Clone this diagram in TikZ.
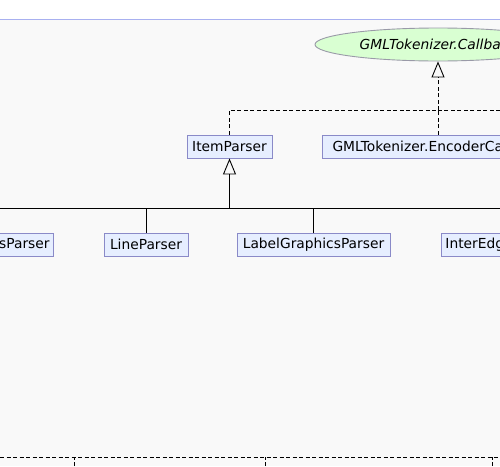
\documentclass[tikz,border=0pt]{standalone}
\usepackage{fontspec}
\setmainfont{DejaVu Sans}
\usetikzlibrary{arrows.meta,shapes.geometric}

\definecolor{canvas}{HTML}{F9F9F9}
\definecolor{rulecol}{HTML}{A8B0F0}
\definecolor{clsfill}{HTML}{E6EEFF}
\definecolor{clsborder}{HTML}{8A8AC8}
\definecolor{iffill}{HTML}{D9FFD2}
\definecolor{ifborder}{HTML}{9A9AA8}

\begin{document}
\begin{tikzpicture}[
    x=1pt, y=-1pt,
    font=\fontsize{13.8}{15}\selectfont,
    cls/.style={
        draw=clsborder,
        fill=clsfill,
        minimum height=23pt,
        inner xsep=4pt,
        inner ysep=0pt,
        line width=0.9pt
    },
    iface/.style={
        ellipse,
        draw=ifborder,
        fill=iffill,
        minimum width=246pt,
        minimum height=33pt,
        font=\fontsize{13.8}{15}\selectfont\itshape,
        line width=0.9pt
    },
    rel/.style={line width=0.9pt},
    impl/.style={rel, dash pattern=on 4pt off 2.5pt},
    gen/.style={-{Triangle[open, length=16pt, width=13pt, line width=0.9pt]}}
]
    \useasboundingbox (0,0) rectangle (500,466);
    \clip (0,0) rectangle (500,466);
    %% Hintergrund
    \fill[canvas] (0,19) rectangle (500,466);
    \draw[rulecol, line width=1pt] (0,19) -- (500,19);

    %% Interface
    \node[iface] (callback) at (438,44.5) {GMLTokenizer.Callback};
    %% Klassen
    \node[cls, minimum width=85pt] (itemParser) at (229.5,146.5) {ItemParser};
    \node[cls, minimum width=232pt] (encoderCallback) at (438,146.5) {GMLTokenizer.EncoderCallback};
    \node[cls, anchor=east] (graphicsParser) at (54,244.5) {GraphicsParser};
    \node[cls, minimum width=84pt] (lineParser) at (146,244.5) {LineParser};
    \node[cls, minimum width=153pt] (labelGraphicsParser) at (313.5,244.5) {LabelGraphicsParser};
    \node[cls, anchor=west] (interEdgeParser) at (441,244.5) {InterEdgeParser};

    %% Hilfspunkte
    \coordinate (implJoin) at (438,110);
    \coordinate (implEast) at (500,110);
    \coordinate (busWest) at (0,208);
    \coordinate (busEast) at (500,208);
    \coordinate (lowWest) at (0,457);
    \coordinate (lowEast) at (500,457);
    \coordinate (lowA) at (74,466);
    \coordinate (lowB) at (265,466);
    \coordinate (lowC) at (492,466);

    %% Implementierung
    \draw[impl] (itemParser.north) |- (implJoin);
    \draw[impl] (encoderCallback.north) -- (implJoin);
    \draw[impl] (implEast) -- (implJoin);
    \draw[impl, gen] (implJoin) -- (callback.south);

    %% Vererbung
    \draw[rel] (busWest) -- (busEast);
    \draw[rel, gen] (itemParser.south |- busWest) -- (itemParser.south);
    \draw[rel] (lineParser.north) -- (lineParser.north |- busWest);
    \draw[rel] (labelGraphicsParser.north) -- (labelGraphicsParser.north |- busWest);

    %% unten
    \draw[impl] (lowWest) -- (lowEast);
    \draw[impl] (lowA) -- (lowA |- lowWest);
    \draw[impl] (lowB) -- (lowB |- lowWest);
    \draw[impl] (lowC) -- (lowC |- lowWest);
\end{tikzpicture}
\end{document}
